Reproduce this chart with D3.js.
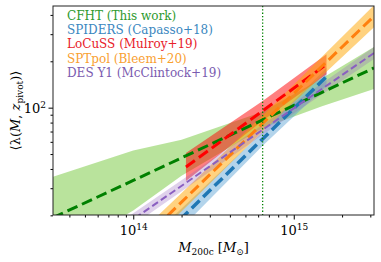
<!DOCTYPE html>
<html>
<head>
<meta charset="utf-8">
<script src="https://cdn.jsdelivr.net/npm/d3@7"></script>
<style>
  body { margin: 0; background: #fff; }
  text { font-family: "DejaVu Serif", serif; }
</style>
</head>
<body>
<script>
// values
var labels = ["CFHT (This work)", "SPIDERS (Capasso+18)", "LoCuSS (Mulroy+19)", "SPTpol (Bleem+20)", "DES Y1 (McClintock+19)"];

var cfhtMass = [3.16e13, 1e14, 2e14, 6.4e14, 1.5e15, 3.16e15];
var cfhtMid  = [19.3, 33.7, 47.2, 83.3, 125.7, 181];
var cfhtLo   = [10.5, 21.5, 36.1, 73.9, 102, 132.2];
var cfhtHi   = [35.6, 52.8, 61.8, 93.9, 155, 247.8];

var spidersMass = [1.2e14, 6.4e14, 1.6e15];
var spidersMid  = [11.4, 62.7, 159];
var spidersLo   = [9.7, 56.5, 139];
var spidersHi   = [13.4, 69.6, 181.9];

var locussMass = [2.13e14, 6.4e14, 1.6e15];
var locussMid  = [41.2, 95.3, 191.1];
var locussLo   = [33.4, 82.1, 164.6];
var locussHi   = [50.8, 110.6, 221.9];

var sptMass = [1e14, 6.4e14, 3.2e15];
var sptMid  = [12.1, 79.0, 396.9];
var sptLo   = [10.4, 70.1, 336.6];
var sptHi   = [14.0, 89.0, 468];

var desMass = [8e13, 6.4e14, 3.2e15];
var desMid  = [16.05, 71.9, 228.2];
var desLo   = [14.7, 66.7, 208.6];
var desHi   = [17.6, 77.5, 249.6];

var pivotMass = 6.4e14;

var xMajor = [1e14, 1e15];
var xMinor = [4e13, 5e13, 6e13, 7e13, 8e13, 9e13, 2e14, 3e14, 4e14, 5e14, 6e14, 7e14, 8e14, 9e14, 2e15, 3e15];
var yMajor = [100];
var yMinor = [20, 30, 40, 50, 60, 70, 80, 90, 200, 300, 400];

var margin = {top: 6, right: 7, bottom: 47, left: 53},
    width = 381 - margin.left - margin.right,
    height = 262 - margin.top - margin.bottom;

var svg = d3.select("body").append("svg")
    .attr("width", 381)
    .attr("height", 262)
  .append("g")
    .attr("transform", "translate(" + margin.left + "," + margin.top + ")");

var x = d3.scaleLog().domain([Math.pow(10, 13.5), Math.pow(10, 15.5)]).range([0, width]);
var y = d3.scaleLog().domain([20.1, 457]).range([height, 0]);

svg.append("clipPath").attr("id", "clip")
  .append("rect").attr("width", width).attr("height", height);

var plot = svg.append("g").attr("clip-path", "url(#clip)");

var series = [
  {mass: cfhtMass, mid: cfhtMid, lo: cfhtLo, hi: cfhtHi, line: "#008000", fill: "#8bd05a", op: 0.6, lw: 3, dash: "11,5", text: "#2e9a2e"},
  {mass: spidersMass, mid: spidersMid, lo: spidersLo, hi: spidersHi, line: "#1f77b4", fill: "#56a0d3", op: 0.45, lw: 3.5, dash: "11,5", text: "#3a87c0"},
  {mass: locussMass, mid: locussMid, lo: locussLo, hi: locussHi, line: "#ff0000", fill: "#ff0000", op: 0.5, lw: 3, dash: "11,5", text: "#e8202a"},
  {mass: sptMass, mid: sptMid, lo: sptLo, hi: sptHi, line: "#ff7f0e", fill: "#ffa500", op: 0.5, lw: 3, dash: "11,5", text: "#f9a030"},
  {mass: desMass, mid: desMid, lo: desLo, hi: desHi, line: "#8a5fc0", fill: "#9467bd", op: 0.3, lw: 2, dash: "7,3.5", text: "#7a5bb0"}
];

var area = d3.area()
    .x(function(d) { return x(d[0]); })
    .y0(function(d) { return y(d[1]); })
    .y1(function(d) { return y(d[2]); });

var line = d3.line()
    .x(function(d) { return x(d[0]); })
    .y(function(d) { return y(d[1]); });

// bands
series.forEach(function(s) {
  plot.append("path")
    .datum(s.mass.map(function(m, i) { return [m, s.lo[i], s.hi[i]]; }))
    .attr("d", area)
    .attr("fill", s.fill)
    .attr("fill-opacity", s.op);
});

// dashed lines
series.forEach(function(s) {
  plot.append("path")
    .datum(s.mass.map(function(m, i) { return [m, s.mid[i]]; }))
    .attr("d", line)
    .attr("fill", "none")
    .attr("stroke", s.line)
    .attr("stroke-width", s.lw)
    .attr("stroke-dasharray", s.dash);
});

// pivot
svg.append("line")
    .attr("x1", x(pivotMass)).attr("x2", x(pivotMass))
    .attr("y1", 0).attr("y2", height)
    .attr("stroke", "#008000")
    .attr("stroke-width", 1.3)
    .attr("stroke-dasharray", "1.3,2");

// axes
svg.append("g")
    .attr("transform", "translate(0," + height + ")")
    .call(d3.axisBottom(x).tickValues(xMinor).tickSize(2.5).tickFormat(""))
    .call(function(g) { g.select(".domain").remove(); });
svg.append("g")
    .call(d3.axisLeft(y).tickValues(yMinor).tickSize(2.5).tickFormat(""))
    .call(function(g) { g.select(".domain").remove(); });

var xAx = svg.append("g")
    .attr("transform", "translate(0," + height + ")")
    .call(d3.axisBottom(x).tickValues(xMajor).tickSize(4.5).tickFormat(""));
xAx.select(".domain").remove();
xAx.selectAll(".tick").append("text")
    .attr("fill", "#000")
    .attr("y", 20)
    .attr("text-anchor", "middle")
    .style("font-size", "13px")
    .each(function(d) {
      var t = d3.select(this);
      t.append("tspan").text("10");
      t.append("tspan").attr("dy", -5).style("font-size", "9px").text(Math.round(Math.log10(d)));
    });

var yAx = svg.append("g")
    .call(d3.axisLeft(y).tickValues(yMajor).tickSize(4.5).tickFormat(""));
yAx.select(".domain").remove();
yAx.selectAll(".tick").append("text")
    .attr("fill", "#000")
    .attr("x", -7)
    .attr("y", 5)
    .attr("text-anchor", "end")
    .style("font-size", "13px")
    .each(function(d) {
      var t = d3.select(this);
      t.append("tspan").text("10");
      t.append("tspan").attr("dy", -5).style("font-size", "9px").text(Math.round(Math.log10(d)));
    });

svg.append("rect")
    .attr("width", width).attr("height", height)
    .attr("fill", "none").attr("stroke", "#222").attr("stroke-width", 1);

// axis labels
var xl = svg.append("text")
    .attr("x", width / 2).attr("y", height + 37)
    .attr("text-anchor", "middle")
    .style("font-size", "13px");
xl.append("tspan").style("font-style", "italic").text("M");
xl.append("tspan").attr("dy", 3).style("font-size", "9px").text("200c");
xl.append("tspan").attr("dy", -3).text(" [");
xl.append("tspan").style("font-style", "italic").text("M");
xl.append("tspan").attr("dy", 3).style("font-size", "9px").text("⊙");
xl.append("tspan").attr("dy", -3).text("]");

var yl = svg.append("text")
    .attr("transform", "translate(-33," + (height / 2) + ") rotate(-90)")
    .attr("text-anchor", "middle")
    .style("font-size", "13px");
yl.append("tspan").text("⟨λ(");
yl.append("tspan").style("font-style", "italic").text("M");
yl.append("tspan").text(", ");
yl.append("tspan").style("font-style", "italic").text("z");
yl.append("tspan").attr("dy", 3).style("font-size", "9px").text("pivot");
yl.append("tspan").attr("dy", -3).text(")⟩");

// legend
svg.selectAll(".leg")
    .data(labels)
    .enter()
    .append("text")
    .attr("x", 14)
    .attr("y", function(d, i) { return 14 + i * 14.2; })
    .attr("fill", function(d, i) { return series[i].text; })
    .style("font-size", "12px")
    .text(function(d) { return d; });
</script>
</body>
</html>
